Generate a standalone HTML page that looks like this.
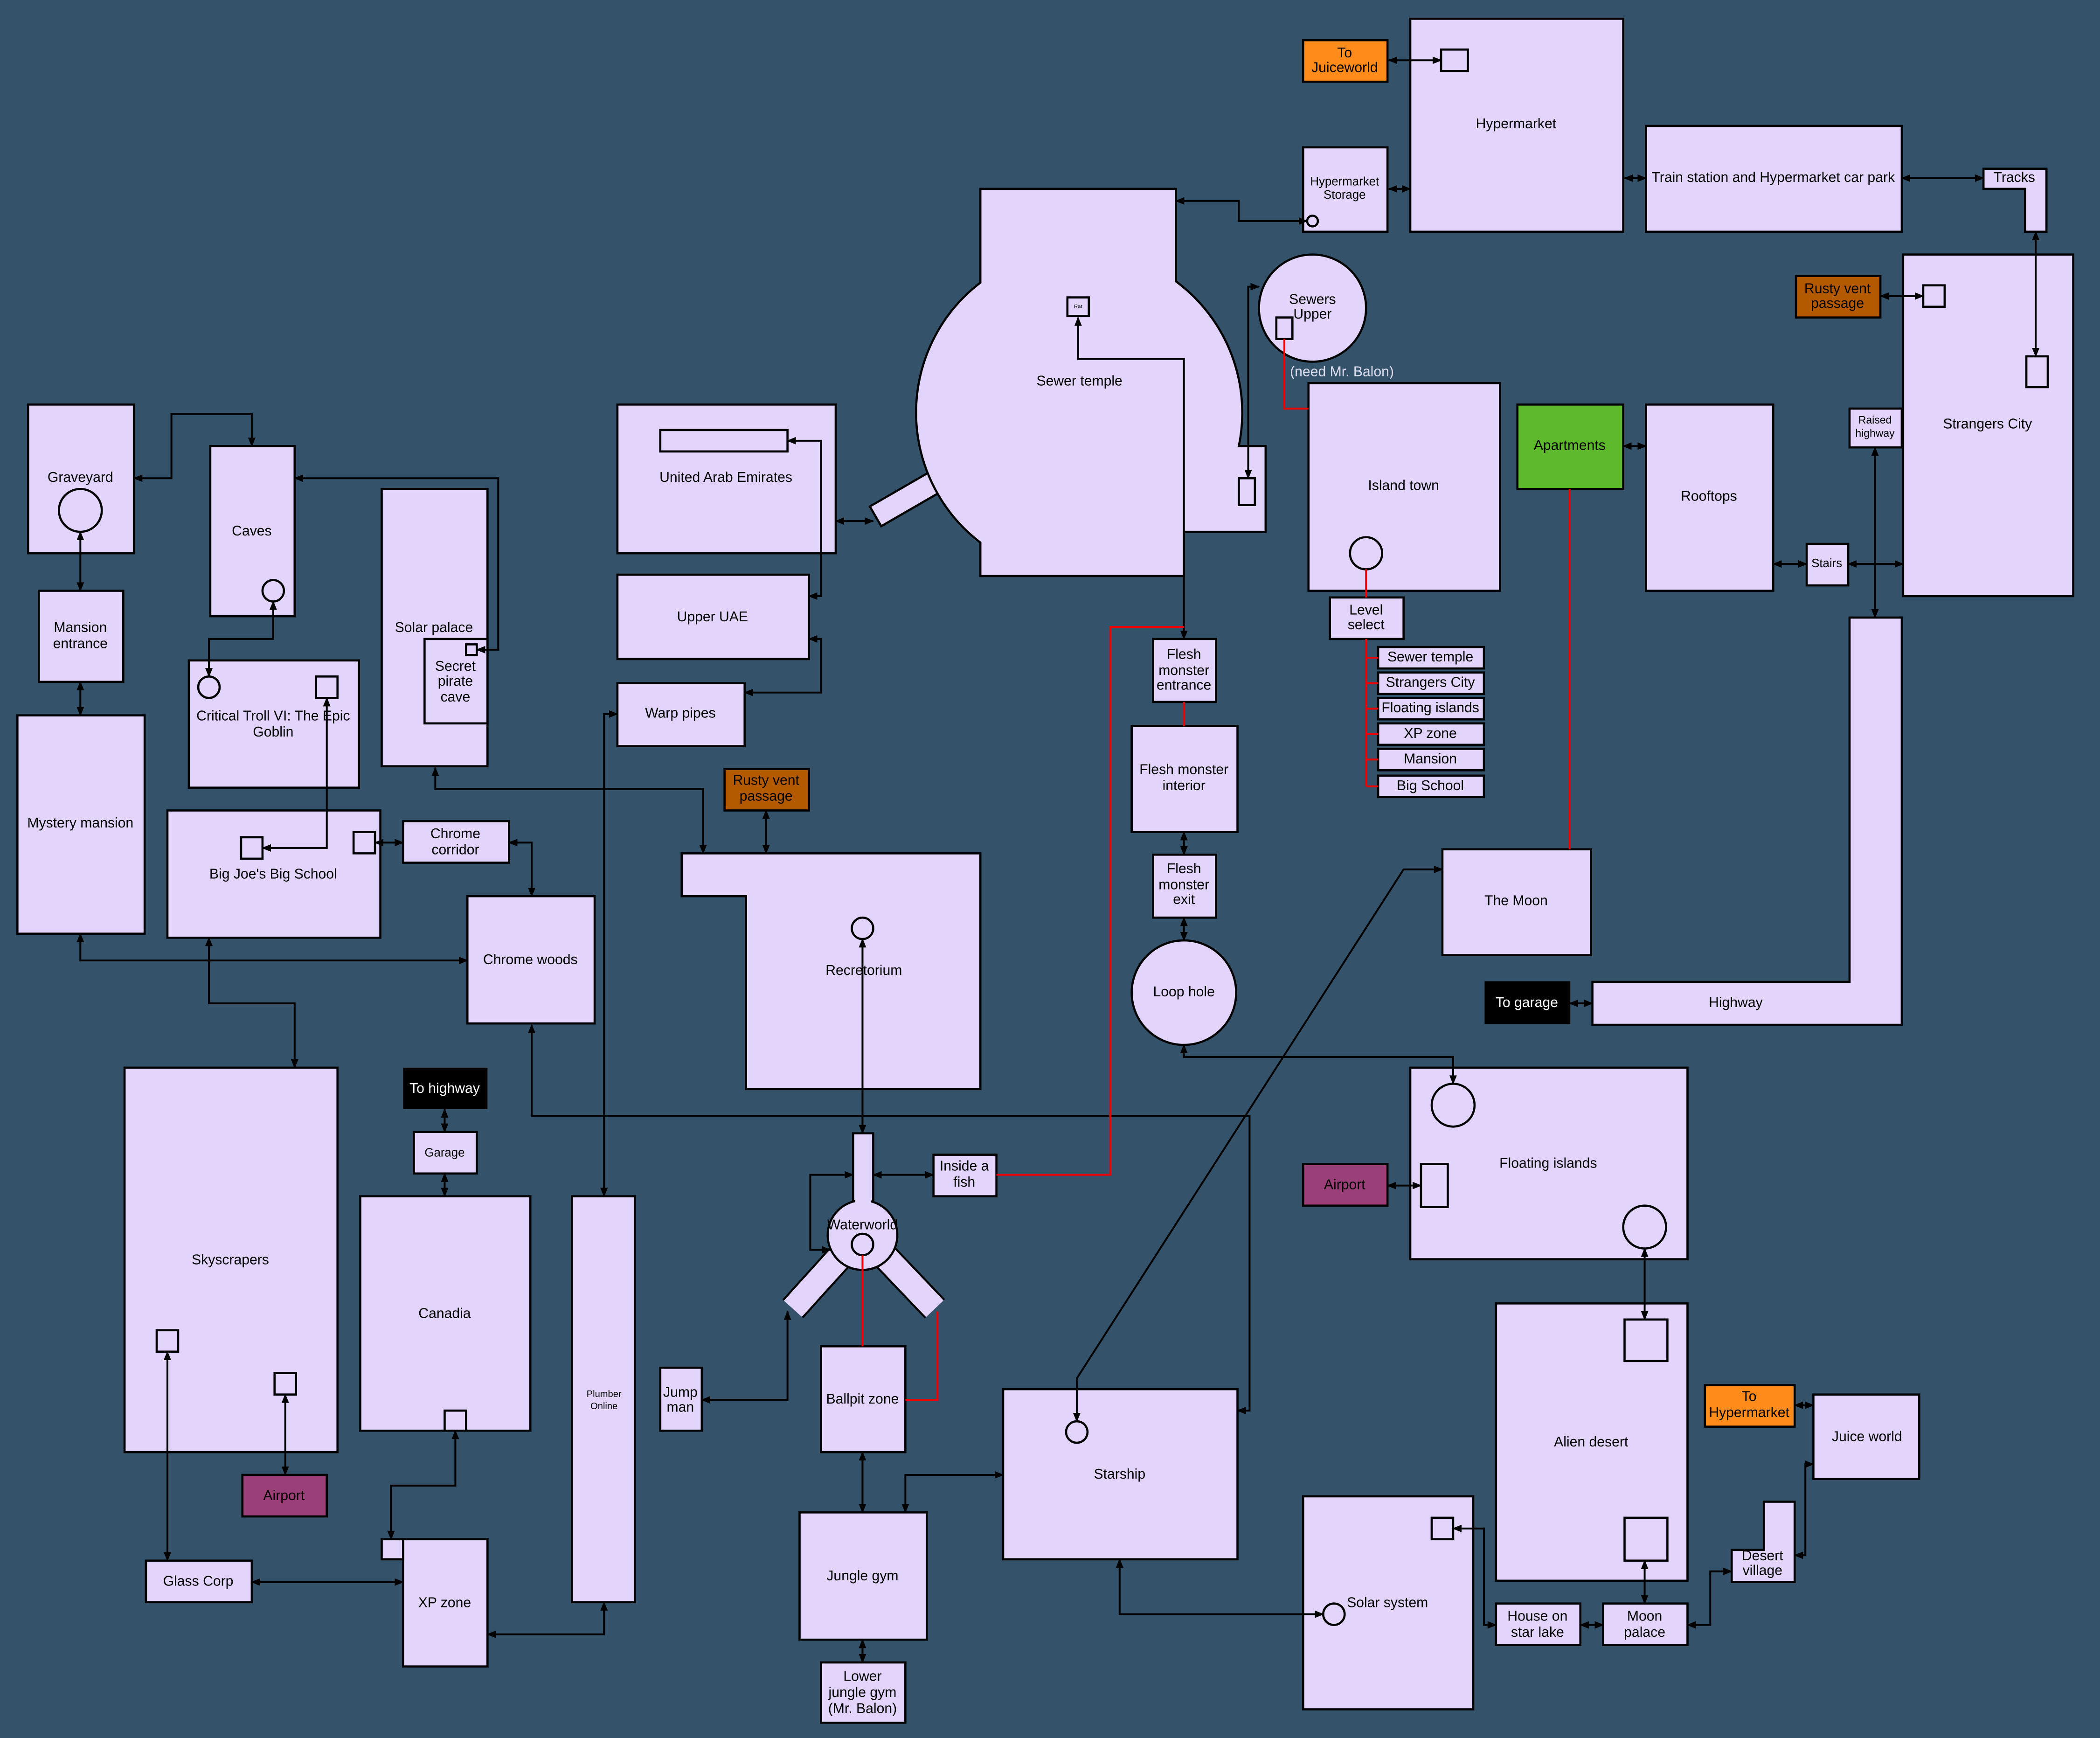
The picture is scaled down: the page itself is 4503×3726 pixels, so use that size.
<!DOCTYPE html>
<html><head><meta charset="utf-8"><style>
html,body{margin:0;padding:0;background:#34536a;}
svg{display:block}
text{font-family:"Liberation Sans",sans-serif;font-size:10.5px;fill:#000;text-anchor:middle;dominant-baseline:middle}
.b{fill:#e3d4fc;stroke:#000;stroke-width:1.6}
.c{fill:none;stroke:#000;stroke-width:1.4}
.r{fill:none;stroke:#e00;stroke-width:1.4}
.w{fill:#fff}
</style></head><body>
<svg width="4503" height="3726" viewBox="0 0 1568 1297.4" preserveAspectRatio="none" xmlns="http://www.w3.org/2000/svg">
<defs><marker id="a" viewBox="0 0 10 10" refX="9" refY="5" markerWidth="5" markerHeight="5" orient="auto-start-reverse"><path d="M0,1 L10,5 L0,9 z" fill="#000"/></marker></defs>
<rect width="1568" height="1298" fill="#34536a"/>

<!-- Sewer temple -->
<g transform="rotate(-30 676 372)"><rect class="b" x="650" y="364" width="56" height="17"/></g>
<path class="b" d="M732,141H878V210A122,122 0 0 1 925,333H945V397H884V430H732V405A122,122 0 0 1 732,211Z"/>
<rect class="b" x="797" y="222" width="16" height="14"/><text x="805" y="229" style="font-size:4px">Rat</text>
<rect class="b" x="925" y="357" width="12" height="20"/>
<text x="806" y="285">Sewer temple</text>

<!-- boxes -->
<rect x="973" y="30" width="63" height="31" fill="#ff8c1a" stroke="#000" stroke-width="1.6"/><text x="1004" y="40">To</text><text x="1004" y="51">Juiceworld</text>
<rect class="b" x="1053" y="14" width="159" height="159"/><rect class="b" x="1076" y="37" width="20" height="16"/><text x="1132" y="93">Hypermarket</text>
<rect class="b" x="973" y="110" width="63" height="63"/><circle class="b" cx="980" cy="165" r="4"/><text x="1004" y="136" style="font-size:9px">Hypermarket</text><text x="1004" y="146" style="font-size:9px">Storage</text>
<rect class="b" x="1229" y="94" width="191" height="79"/><text x="1324" y="133">Train station and Hypermarket car park</text>
<path class="b" d="M1481,126H1528V173H1512V141H1481Z"/><text x="1504" y="133">Tracks</text>
<circle class="b" cx="980" cy="230" r="40"/><rect class="b" x="953" y="237" width="12" height="16"/><text x="980" y="224">Sewers</text><text x="980" y="235">Upper</text>
<text x="1002" y="278" style="fill:#dde">(need Mr. Balon)</text>
<rect class="b" x="977" y="286" width="143" height="155"/><circle class="b" cx="1020" cy="413" r="12"/><text x="1048" y="363">Island town</text>
<rect class="b" x="993" y="446" width="55" height="31"/><text x="1020" y="456">Level</text><text x="1020" y="467">select</text>
<g class="b"><rect x="1029" y="483" width="79" height="16"/><rect x="1029" y="502" width="79" height="16"/><rect x="1029" y="521" width="79" height="16"/><rect x="1029" y="540" width="79" height="16"/><rect x="1029" y="559" width="79" height="16"/><rect x="1029" y="579" width="79" height="16"/></g>
<text x="1068" y="491">Sewer temple</text><text x="1068" y="510">Strangers City</text><text x="1068" y="529">Floating islands</text><text x="1068" y="548">XP zone</text><text x="1068" y="567">Mansion</text><text x="1068" y="587">Big School</text>
<rect x="1133" y="302" width="79" height="63" fill="#5db82c" stroke="#000" stroke-width="1.6"/><text x="1172" y="333">Apartments</text>
<rect class="b" x="1229" y="302" width="95" height="139"/><text x="1276" y="371">Rooftops</text>
<rect class="b" x="1349" y="406" width="31" height="31"/><text x="1364" y="421" style="font-size:9px">Stairs</text>
<rect class="b" x="1381" y="305" width="39" height="29"/><text x="1400" y="314" style="font-size:8px">Raised</text><text x="1400" y="324" style="font-size:8px">highway</text>
<rect class="b" x="1421" y="190" width="127" height="255"/><rect class="b" x="1436" y="213" width="16" height="16"/><rect class="b" x="1513" y="266" width="16" height="23"/><text x="1484" y="317">Strangers City</text>
<rect x="1341" y="206" width="63" height="31" fill="#b35a00" stroke="#000" stroke-width="1.6"/><text x="1372" y="216">Rusty vent</text><text x="1372" y="227">passage</text>
<path class="b" d="M1381,461H1420V765H1189V733H1381Z"/><text x="1296" y="749">Highway</text>
<rect x="1109" y="733" width="63" height="31" fill="#000" stroke="#000"/><text x="1140" y="749" class="w">To garage</text>
<rect class="b" x="1077" y="634" width="111" height="79"/><text x="1132" y="673">The Moon</text>
<rect class="b" x="1053" y="797" width="207" height="143"/><circle class="b" cx="1085" cy="825" r="16"/><circle class="b" cx="1228" cy="916" r="16"/><rect class="b" x="1061" y="869" width="20" height="32"/><text x="1156" y="869">Floating islands</text>
<rect x="973" y="869" width="63" height="31" fill="#9a3f78" stroke="#000" stroke-width="1.6"/><text x="1004" y="885">Airport</text>
<rect class="b" x="1117" y="973" width="143" height="207"/><rect class="b" x="1213" y="985" width="32" height="31"/><rect class="b" x="1213" y="1133" width="32" height="32"/><text x="1188" y="1077">Alien desert</text>
<rect x="1273" y="1034" width="67" height="31" fill="#ff8c1a" stroke="#000" stroke-width="1.6"/><text x="1306" y="1043">To</text><text x="1306" y="1055">Hypermarket</text>
<rect class="b" x="1354" y="1041" width="79" height="63"/><text x="1394" y="1073">Juice world</text>
<path class="b" d="M1317,1121H1340V1181H1293V1157H1317Z"/><text x="1316" y="1162">Desert</text><text x="1316" y="1173">village</text>
<rect class="b" x="1197" y="1197" width="63" height="31"/><text x="1228" y="1207">Moon</text><text x="1228" y="1219">palace</text>
<rect class="b" x="1117" y="1197" width="63" height="31"/><text x="1148" y="1207">House on</text><text x="1148" y="1219">star lake</text>
<rect class="b" x="973" y="1117" width="127" height="159"/><rect class="b" x="1069" y="1133" width="16" height="16"/><circle class="b" cx="996" cy="1205" r="8"/><text x="1036" y="1197">Solar system</text>
<rect class="b" x="749" y="1037" width="175" height="127"/><circle class="b" cx="804" cy="1069" r="8"/><text x="836" y="1101">Starship</text>
<circle class="b" cx="884" cy="741" r="39"/><text x="884" y="741">Loop hole</text>
<rect class="b" x="861" y="477" width="47" height="47"/><text x="884" y="489">Flesh</text><text x="884" y="501">monster</text><text x="884" y="512">entrance</text>
<rect class="b" x="845" y="542" width="79" height="79"/><text x="884" y="575">Flesh monster</text><text x="884" y="587">interior</text>
<rect class="b" x="861" y="638" width="47" height="47"/><text x="884" y="649">Flesh</text><text x="884" y="661">monster</text><text x="884" y="672">exit</text>
<rect class="b" x="697" y="862" width="47" height="31"/><text x="720" y="871">Inside a</text><text x="720" y="883">fish</text>
<path class="b" d="M509,637H732V813H557V669H509Z"/><circle class="b" cx="644" cy="693" r="8"/><text x="645" y="725">Recretorium</text>
<rect x="541" y="574" width="63" height="31" fill="#b35a00" stroke="#000" stroke-width="1.6"/><text x="572" y="583">Rusty vent</text><text x="572" y="595">passage</text>
<rect class="b" x="461" y="302" width="163" height="111"/><rect class="b" x="493" y="321" width="95" height="16"/><text x="542" y="357">United Arab Emirates</text>
<rect class="b" x="461" y="429" width="143" height="63"/><text x="532" y="461">Upper UAE</text>
<rect class="b" x="461" y="510" width="95" height="47"/><text x="508" y="533">Warp pipes</text>
<!-- Waterworld -->
<g stroke-linecap="butt">
<path d="M630,935L592,977M658,935L698,977" stroke="#000" stroke-width="21"/>
<rect x="637" y="846" width="15" height="60" fill="#000"/>
<path d="M630,935L592,977M658,935L698,977" stroke="#e3d4fc" stroke-width="18"/>
</g>
<rect class="b" x="637" y="846" width="15" height="60"/>
<circle class="b" cx="644" cy="922" r="26"/>
<rect x="638.5" y="895" width="12" height="10" fill="#e3d4fc"/>
<circle class="b" cx="644" cy="929" r="8"/><text x="644" y="915">Waterworld</text>
<rect class="b" x="613" y="1005" width="63" height="79"/><text x="644" y="1045">Ballpit zone</text>
<rect class="b" x="597" y="1129" width="95" height="95"/><text x="644" y="1177">Jungle gym</text>
<rect class="b" x="613" y="1241" width="63" height="45"/><text x="644" y="1252">Lower</text><text x="644" y="1264">jungle gym</text><text x="644" y="1276">(Mr. Balon)</text>
<rect class="b" x="493" y="1021" width="31" height="47"/><text x="508" y="1040">Jump</text><text x="508" y="1051">man</text>
<rect class="b" x="427" y="893" width="47" height="303"/><text x="451" y="1041" style="font-size:7px">Plumber</text><text x="451" y="1050" style="font-size:7px">Online</text>
<rect class="b" x="269" y="893" width="127" height="175"/><rect class="b" x="332" y="1053" width="16" height="15"/><text x="332" y="981">Canadia</text>
<rect class="b" x="309" y="845" width="47" height="31"/><text x="332" y="861" style="font-size:9px">Garage</text>
<rect x="301" y="797" width="63" height="31" fill="#000"/><text x="332" y="813" class="w">To highway</text>
<rect class="b" x="301" y="1149" width="63" height="95"/><rect class="b" x="285" y="1149" width="16" height="15"/><text x="332" y="1197">XP zone</text>
<rect class="b" x="109" y="1165" width="79" height="31"/><text x="148" y="1181">Glass Corp</text>
<rect class="b" x="93" y="797" width="159" height="287"/><rect class="b" x="117" y="993" width="16" height="16"/><rect class="b" x="205" y="1025" width="16" height="16"/><text x="172" y="941">Skyscrapers</text>
<rect x="181" y="1101" width="63" height="31" fill="#9a3f78" stroke="#000" stroke-width="1.6"/><text x="212" y="1117">Airport</text>
<rect class="b" x="349" y="669" width="95" height="95"/><text x="396" y="717">Chrome woods</text>
<rect class="b" x="301" y="613" width="79" height="31"/><text x="340" y="623">Chrome</text><text x="340" y="635">corridor</text>
<rect class="b" x="125" y="605" width="159" height="95"/><rect class="b" x="180" y="625" width="16" height="16"/><rect class="b" x="264" y="621" width="16" height="16"/><text x="204" y="653">Big Joe's Big School</text>
<rect class="b" x="141" y="493" width="127" height="95"/><circle class="b" cx="156" cy="513" r="8"/><rect class="b" x="236" y="505" width="16" height="16"/><text x="204" y="535">Critical Troll VI: The Epic</text><text x="204" y="547">Goblin</text>
<rect class="b" x="285" y="365" width="79" height="207"/><text x="324" y="469">Solar palace</text>
<rect class="b" x="317" y="477" width="47" height="63"/><rect class="b" x="348" y="481" width="8" height="8"/><text x="340" y="498">Secret</text><text x="340" y="509">pirate</text><text x="340" y="521">cave</text>
<rect class="b" x="157" y="333" width="63" height="127"/><circle class="b" cx="204" cy="441" r="8"/><text x="188" y="397">Caves</text>
<rect class="b" x="21" y="302" width="79" height="111"/><circle class="b" cx="60" cy="381" r="16"/><text x="60" y="357">Graveyard</text>
<rect class="b" x="29" y="441" width="63" height="68"/><text x="60" y="469">Mansion</text><text x="60" y="481">entrance</text>
<rect class="b" x="13" y="534" width="95" height="163"/><text x="60" y="615">Mystery mansion</text>

<!-- connectors (on top) -->
<g class="c" marker-start="url(#a)" marker-end="url(#a)">
<path d="M1037,45H1076"/><path d="M1037,141H1053"/><path d="M878,150H925V165H976"/>
<path d="M1213,133H1229"/><path d="M1420,133H1481"/><path d="M1520,173V266"/>
<path d="M1404,221H1436"/><path d="M1212,333H1229"/><path d="M1324,421H1349"/><path d="M1380,421H1421"/>
<path d="M1400,334V461"/><path d="M1172,749H1189"/><path d="M940,214H932V357"/>
<path d="M805,237V268H884V477"/><path d="M884,621V638"/><path d="M884,685V702"/>
<path d="M884,780V789H1085V809"/><path d="M1077,649H1048L804,1029V1061"/>
<path d="M1036,885H1061"/><path d="M1228,932V985"/><path d="M1228,1165V1197"/>
<path d="M1180,1213H1197"/><path d="M1085,1141H1108V1213H1117"/><path d="M1260,1213H1277V1173H1293"/>
<path d="M1340,1161H1348V1093H1354"/><path d="M1340,1049H1354"/><path d="M836,1164V1205H988"/>
<path d="M676,1129V1101H749"/><path d="M644,1084V1129"/><path d="M644,1224V1241"/>
<path d="M397,765V833H933V1053H924"/><path d="M637,877H605V933H620"/><path d="M652,877H697"/>
<path d="M644,701V846"/><path d="M524,1045H588V979"/><path d="M451,893V533H461"/>
<path d="M451,1196V1220H364"/><path d="M572,605V637"/><path d="M325,573V589H525V637"/>
<path d="M588,329H613V445H604"/><path d="M604,477H613V517H556"/><path d="M624,389H652"/>
<path d="M356,485H372V357H220"/><path d="M100,357H128V309H188V333"/><path d="M60,397V441"/>
<path d="M60,509V534"/><path d="M204,449V477H156V505"/><path d="M244,521V633H196"/>
<path d="M280,629H301"/><path d="M380,629H397V669"/><path d="M60,697V717H349"/>
<path d="M156,700V749H220V797"/><path d="M332,828V845"/><path d="M332,876V893"/>
<path d="M340,1068V1109H292V1149"/><path d="M125,1009V1165"/><path d="M213,1041V1101"/><path d="M188,1181H301"/>
</g>
<g class="r">
<path d="M959,253V305H977"/><path d="M1020,425V446"/><path d="M1020,477V587"/>
<path d="M1020,491H1029M1020,510H1029M1020,529H1029M1020,548H1029M1020,567H1029M1020,587H1029"/>
<path d="M1172,365V634"/><path d="M884,468H829V877H744"/><path d="M884,524V542"/>
<path d="M644,937V1005"/><path d="M700,979V1045H676"/>
</g>
</svg>
</body></html>
